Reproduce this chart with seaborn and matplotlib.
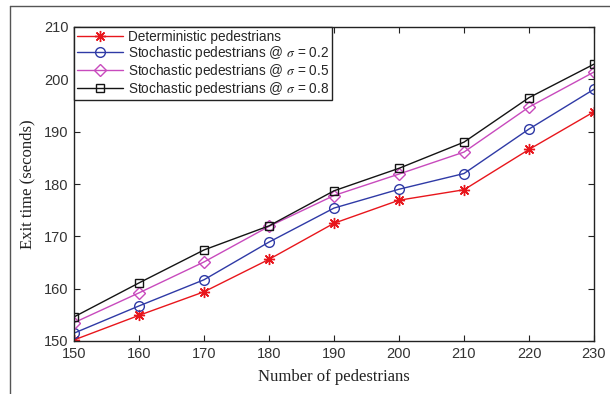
import matplotlib
matplotlib.use("Agg")
import matplotlib.pyplot as plt
import seaborn as sns
import pandas as pd
from matplotlib.lines import Line2D

# Number of pedestrians on the x axis
pedestrians = [150, 160, 170, 180, 190, 200, 210, 220, 230]

# Exit time (seconds) for each model
deterministic = [150.2, 154.9, 159.4, 165.6, 172.5, 176.9, 178.9, 186.6, 193.8]
stochastic_02 = [151.5, 156.7, 161.7, 168.9, 175.4, 179.0, 182.0, 190.5, 198.1]
stochastic_05 = [153.5, 159.2, 165.1, 171.9, 177.8, 181.9, 186.1, 194.7, 201.4]
stochastic_08 = [154.6, 161.1, 167.4, 172.0, 178.7, 183.0, 188.0, 196.5, 202.9]

series_names = [
    "Deterministic pedestrians",
    r"Stochastic pedestrians @ $\sigma$ = 0.2",
    r"Stochastic pedestrians @ $\sigma$ = 0.5",
    r"Stochastic pedestrians @ $\sigma$ = 0.8",
]
series_values = [deterministic, stochastic_02, stochastic_05, stochastic_08]

x_ticks = [150, 160, 170, 180, 190, 200, 210, 220, 230]
y_ticks = [150, 160, 170, 180, 190, 200, 210]

colors = ["#e8161c", "#2f3aa6", "#c84abd", "#141414"]
# asterisk, open circle, open diamond, open square
markers = [(8, 2, 0), "o", "D", "s"]
marker_sizes = [8, 7, 6, 5.5]

rows = []
for name, vals in zip(series_names, series_values):
    for n, v in zip(pedestrians, vals):
        rows.append({"pedestrians": n, "exit_time": v, "model": name})
df = pd.DataFrame(rows)

sns.set_style("ticks")
plt.rcParams["font.family"] = ["Liberation Sans", "DejaVu Sans"]
plt.rcParams["mathtext.fontset"] = "stix"

fig = plt.figure(figsize=(6.10, 3.94), dpi=100)
ax = fig.add_axes([74 / 610, 1 - 341 / 394, 520 / 610, 314 / 394])

palette = dict(zip(series_names, colors))
for name, mk, ms in zip(series_names, markers, marker_sizes):
    sub = df[df["model"] == name]
    sns.lineplot(
        data=sub, x="pedestrians", y="exit_time", ax=ax,
        color=palette[name], marker=mk, markersize=ms,
        markerfacecolor="none", markeredgecolor=palette[name],
        markeredgewidth=1.0, linewidth=1.0, legend=False,
    )

ax.set_xlim(150, 230)
ax.set_ylim(150, 210)
ax.set_xticks(x_ticks)
ax.set_yticks(y_ticks)
ax.tick_params(direction="in", length=4, width=0.8, top=True, right=True,
               labelsize=10.5, colors="#222222", labelcolor="#333333", pad=4)
for side in ["top", "right", "bottom", "left"]:
    ax.spines[side].set_visible(True)
    ax.spines[side].set_color("#222222")
    ax.spines[side].set_linewidth(1.0)

ax.set_xlabel("Number of pedestrians", family=["Liberation Serif"], fontsize=12,
              color="#222222", labelpad=6)
ax.set_ylabel("Exit time (seconds)", family=["Liberation Serif"], fontsize=12,
              color="#222222", labelpad=6)

handles = [
    Line2D([0], [0], color=c, marker=m, markersize=s, linewidth=1.0,
           markerfacecolor="none", markeredgecolor=c, markeredgewidth=1.0)
    for c, m, s in zip(colors, markers, marker_sizes)
]
leg = ax.legend(handles, series_names, loc="upper left", borderaxespad=0,
                frameon=True, fancybox=False, framealpha=1, edgecolor="#222222",
                fontsize=9.8, handlelength=3.4, handletextpad=0.35,
                labelspacing=0.0, borderpad=0.2)
leg.get_frame().set_linewidth(1.0)

# Outer frame lines along top and left of the figure
fig.add_artist(Line2D([10 / 610, 1], [1 - 6 / 394, 1 - 6 / 394],
                      transform=fig.transFigure, color="#555555", linewidth=1.0))
fig.add_artist(Line2D([10 / 610, 10 / 610], [0, 1 - 6 / 394],
                      transform=fig.transFigure, color="#555555", linewidth=1.0))

fig.savefig("out.png", dpi=100)
